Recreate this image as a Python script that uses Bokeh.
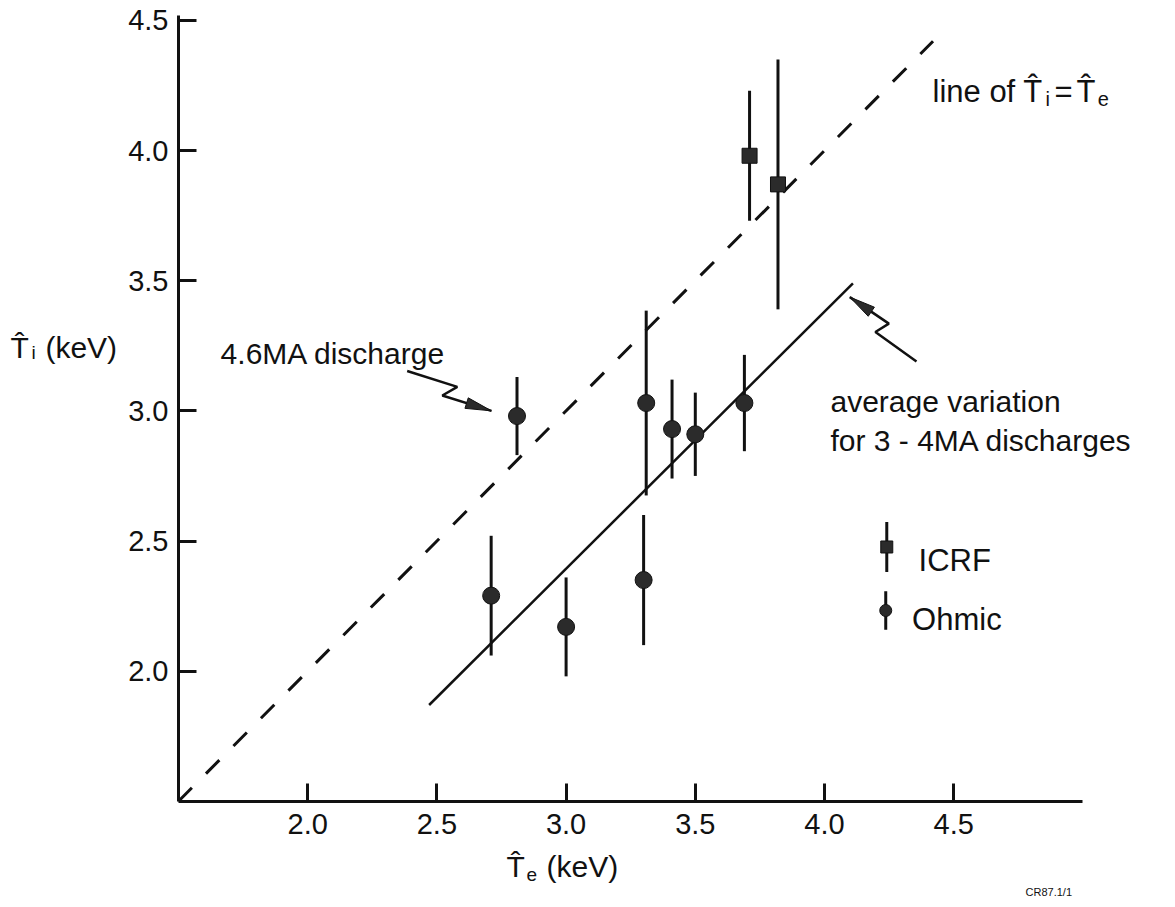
import math
from bokeh.plotting import figure
from bokeh.models import Label, FixedTicker, PrintfTickFormatter, Range1d
from bokeh.embed import file_html
from bokeh.resources import INLINE

# ---------------- data ----------------
ohmic_te = [2.71, 2.81, 3.00, 3.30, 3.31, 3.41, 3.50, 3.69]
ohmic_ti = [2.29, 2.98, 2.17, 2.35, 3.03, 2.93, 2.91, 3.03]
ohmic_err = [0.23, 0.15, 0.19, 0.25, 0.355, 0.19, 0.16, 0.185]

icrf_te = [3.71, 3.82]
icrf_ti = [3.98, 3.87]
icrf_err = [0.25, 0.48]

avg_te = [2.47, 4.11]          # average variation for 3 - 4 MA discharges
avg_ti = [1.87, 3.49]

equal_te = [1.5, 4.42]         # line of Ti = Te
equal_ti = list(equal_te)

x_ticks = [2.0, 2.5, 3.0, 3.5, 4.0, 4.5]
y_ticks = [2.0, 2.5, 3.0, 3.5, 4.0, 4.5]

# annotation arrows (zig-zag paths, last point is the tip)
arrow46_x = [2.385, 2.579, 2.521, 2.711]
arrow46_y = [3.153, 3.092, 3.059, 3.000]
arrowavg_x = [4.356, 4.197, 4.249, 4.098]
arrowavg_y = [3.190, 3.303, 3.335, 3.437]

# ---------------- figure ----------------
W, H = 1167, 899
AX_X, AX_Y = 1.5, 1.5            # where the two axes cross
X_END, Y_END = 5.0, 4.52         # ends of the axis lines
PX_X, PX_Y = 258.4, 260.3        # pixels per keV
OX, OY = 178.0, 800.8            # canvas position of (1.5, 1.5)
FONT = "Liberation Sans"
INK = "#111111"
MARK = "#2b2b2b"

x_range = Range1d(AX_X - OX / PX_X, AX_X + (W - OX) / PX_X)
y_range = Range1d(AX_Y - (H - OY) / PX_Y, AX_Y + OY / PX_Y)

p = figure(width=W, height=H, output_backend="svg", toolbar_location=None,
           x_range=x_range, y_range=y_range,
           min_border_left=0, min_border_right=0, min_border_top=0, min_border_bottom=0)
p.outline_line_color = None
p.grid.visible = False
p.background_fill_color = "white"
p.border_fill_color = "white"

xa, ya = p.xaxis[0], p.yaxis[0]
xa.fixed_location = AX_Y
ya.fixed_location = AX_X
xa.bounds = (AX_X, X_END)
ya.bounds = (AX_Y, Y_END)
for ax, ticks in ((xa, x_ticks), (ya, y_ticks)):
    ax.ticker = FixedTicker(ticks=ticks)
    ax.formatter = PrintfTickFormatter(format="%.1f")
    ax.axis_line_width = 3
    ax.axis_line_color = INK
    ax.major_tick_in = 18
    ax.major_tick_out = 0
    ax.major_tick_line_width = 3
    ax.major_tick_line_color = INK
    ax.minor_tick_line_color = None
    ax.major_label_text_font = FONT
    ax.major_label_text_font_size = "29px"
    ax.major_label_text_color = INK
xa.major_label_standoff = 13
ya.major_label_standoff = 10

# Ti = Te dashed line
p.line(equal_te, equal_ti, line_color=INK, line_width=3, line_dash="19 20")
# average variation solid line
p.line(avg_te, avg_ti, line_color=INK, line_width=2.5)

# error bars
p.segment(x0=ohmic_te, y0=[y - e for y, e in zip(ohmic_ti, ohmic_err)],
          x1=ohmic_te, y1=[y + e for y, e in zip(ohmic_ti, ohmic_err)],
          line_color=INK, line_width=3)
p.segment(x0=icrf_te, y0=[y - e for y, e in zip(icrf_ti, icrf_err)],
          x1=icrf_te, y1=[y + e for y, e in zip(icrf_ti, icrf_err)],
          line_color=INK, line_width=3)
# markers
p.scatter(ohmic_te, ohmic_ti, marker="circle", size=17, fill_color=MARK, line_color=INK, line_width=1)
p.scatter(icrf_te, icrf_ti, marker="square", size=15, fill_color=MARK, line_color=INK, line_width=1)


# arrows
def arrow(xs, ys, length=26.0, half=5.5):
    p.line(xs, ys, line_color=INK, line_width=2.5)
    xt, yt = xs[-1], ys[-1]
    dx = (xt - xs[-2]) * PX_X
    dy = (yt - ys[-2]) * PX_Y
    n = math.hypot(dx, dy)
    ux, uy = dx / n, dy / n
    bx, by = -ux * length, -uy * length
    c1 = (bx - uy * half, by + ux * half)
    c2 = (bx + uy * half, by - ux * half)
    hx = [xt, xt + c1[0] / PX_X, xt + c2[0] / PX_X]
    hy = [yt, yt + c1[1] / PX_Y, yt + c2[1] / PX_Y]
    p.patch(hx, hy, fill_color=MARK, line_color=INK, line_width=1)


arrow(arrow46_x, arrow46_y)
arrow(arrowavg_x, arrowavg_y)

# legend (drawn by hand: marker with a vertical bar through it)
leg_x = [4.241, 4.237]
leg_y = [2.477, 2.233]
leg_half = [0.096, 0.074]
p.segment(x0=leg_x, y0=[y - h for y, h in zip(leg_y, leg_half)],
          x1=leg_x, y1=[y + h for y, h in zip(leg_y, leg_half)], line_color=INK, line_width=3)
p.scatter([leg_x[0]], [leg_y[0]], marker="square", size=12, fill_color=MARK, line_color=INK)
p.scatter([leg_x[1]], [leg_y[1]], marker="circle", size=12, fill_color=MARK, line_color=INK)


def lab(x, y, text, size, baseline="alphabetic", align="left"):
    p.add_layout(Label(x=x, y=y, text=text, text_font=FONT, text_font_size=size,
                       text_color=INK, text_baseline=baseline, text_align=align))


lab(4.364, 2.425, "ICRF", "31px")
lab(4.339, 2.198, "Ohmic", "31px")

lab(1.663, 3.220, "4.6MA discharge", "30px")
lab(4.023, 3.034, "average variation", "30px")
lab(4.023, 2.886, "for 3 - 4MA discharges", "30px")

# line of Ti = Te
lab(4.418, 4.225, "line of T\u0302", "31px")
lab(4.855, 4.197, "i", "20px")
lab(4.890, 4.225, "=", "31px")
lab(4.975, 4.225, "T\u0302", "31px")
lab(5.057, 4.197, "e", "20px")

# y axis label
lab(0.850, 3.245, "T\u0302", "30px")
lab(0.931, 3.225, "i", "19px")
lab(0.985, 3.245, "(keV)", "30px")

# x axis label
lab(2.769, 1.250, "T\u0302", "30px")
lab(2.847, 1.219, "e", "19px")
lab(2.924, 1.250, "(keV)", "30px")

lab(4.778, 1.150, "CR87.1/1", "11px")

open("out.html", "w").write(file_html(p, INLINE))
